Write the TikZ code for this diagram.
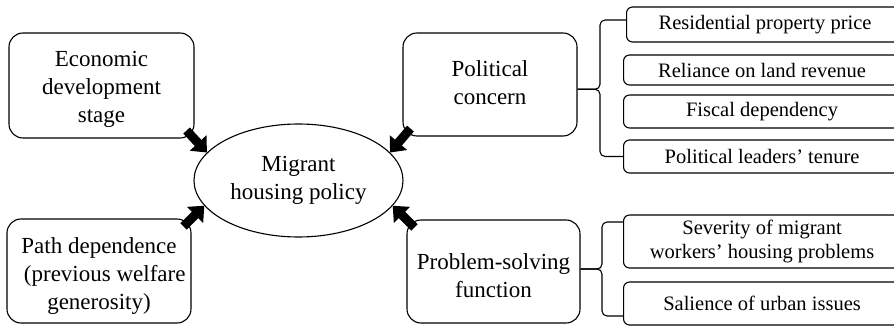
\documentclass[tikz,border=0pt]{standalone}
\usepackage{fontspec}
\setmainfont{Liberation Serif}
\usetikzlibrary{arrows.meta,shapes.geometric}
\begin{document}
\begin{tikzpicture}[x=1pt,y=-1pt,
  bigbox/.style={draw, line width=1.1pt, rounded corners=14pt, inner sep=0pt, fill=white},
  bigtext/.style={align=center, font=\fontsize{23}{28}\selectfont, inner sep=0pt},
  smallbox/.style={draw, line width=1.1pt, rounded corners=6pt, align=center,
    font=\fontsize{20.5}{24}\selectfont, inner sep=0pt, minimum width=277pt, anchor=west, fill=white},
  bracepath/.style={line width=1.1pt, rounded corners=5pt},
  bigarrow/.style={line width=9pt, -{Triangle[width=22pt,length=13pt]}, draw=black}]
\useasboundingbox (0,0) rectangle (894,326);
\clip (0,0) rectangle (894,326);

% main boxes
\node[bigbox, minimum width=185pt, minimum height=105pt] (eco) at (101.5,85.5) {};
\node[bigtext] (ecot) at ([yshift=-4pt]eco.center) {Economic\\development\\stage};
\node[bigbox, minimum width=184pt, minimum height=104pt] (path) at (99,271) {};
\node[bigtext] (patht) at ([yshift=-5pt]path.center) {Path dependence\\\ \ (previous welfare\\generosity)};
\node[bigbox, minimum width=174pt, minimum height=103pt] (pc) at (490,84.5) {};
\node[bigtext] (pct) at ([yshift=2pt]pc.center) {Political\\concern};
\node[bigbox, minimum width=173pt, minimum height=103pt] (ps) at (493.5,271.5) {};
\node[bigtext] (pst) at ([yshift=-4pt]ps.center) {Problem-solving\\function};
\node[ellipse, draw, line width=1.1pt, minimum width=209pt, minimum height=113pt, inner sep=0pt,
  align=center, font=\fontsize{23}{27.5}\selectfont] (mig) at (298.5,180.5) {Migrant\\housing policy};

% small boxes
\node[smallbox, minimum height=35pt] (res) at (626,24.5) {Residential property price};
\node[smallbox, minimum height=30pt] (rel) at (623,70) {Reliance on land revenue};
\node[smallbox, minimum height=33pt] (fis) at (623,111.5) {Fiscal dependency};
\node[smallbox, minimum height=33pt] (lead) at (623,156.5) {Political leaders’ tenure};
\node[smallbox, minimum height=53pt] (sev) at (623,241.5) {Severity of migrant\\workers’ housing problems};
\node[smallbox, minimum height=43pt] (sal) at (623,303.5) {Salience of urban issues};

% braces
\coordinate (pcmid) at (600,89.3);
\draw[bracepath] ([yshift=4.5pt]res.west) -- (600,20) -- (pcmid) -- ([yshift=-4.8pt]pc.east);
\draw[bracepath] (lead.west) -- (600,156.5) -- (pcmid) -- ([yshift=-4.8pt]pc.east);
\coordinate (psmid) at (602,269);
\draw[bracepath] ([yshift=19.5pt]sev.west) -- (602,222) -- (psmid) -- ([yshift=2.5pt]ps.east);
\draw[bracepath] ([yshift=-12.5pt]sal.west) -- (602,316) -- (psmid) -- ([yshift=2.5pt]ps.east);

% arrows
\draw[bigarrow] ([shift={(-8pt,8pt)}]eco.south east) -- (mig.163);
\draw[bigarrow] ([shift={(8pt,8pt)}]pc.south west) -- (mig.17);
\draw[bigarrow] ([shift={(-8pt,-8pt)}]path.north east) -- (mig.195);
\draw[bigarrow] ([shift={(8pt,-8pt)}]ps.north west) -- (mig.345);
\end{tikzpicture}
\end{document}
